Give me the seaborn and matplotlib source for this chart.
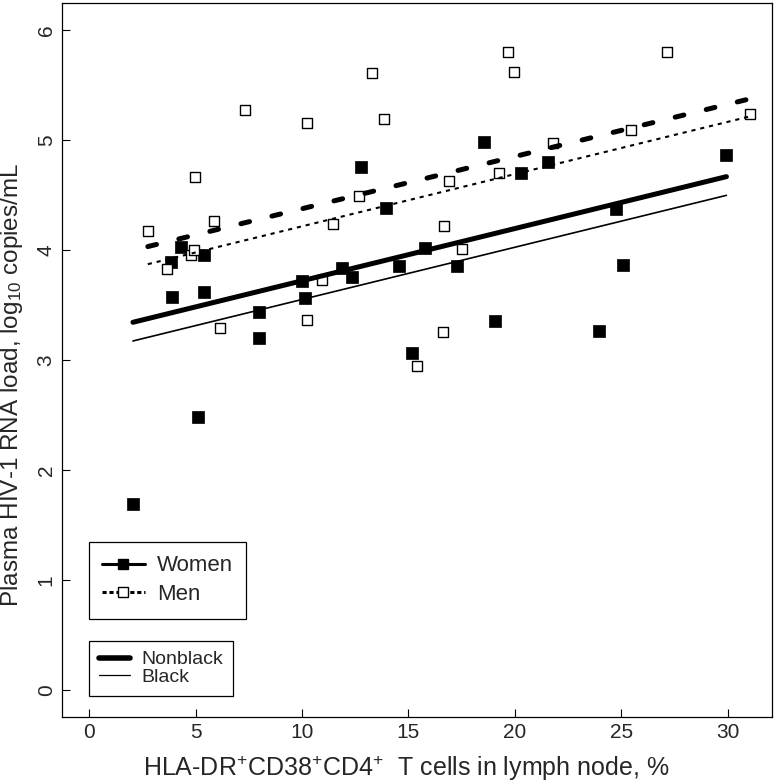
import numpy as np
import pandas as pd
import seaborn as sns
import matplotlib.pyplot as plt
from matplotlib.lines import Line2D

# points
women_x = [2.06, 3.84, 3.89, 4.31, 5.10, 5.39, 5.39, 7.96, 7.97, 10.00, 10.12, 11.87, 12.33, 12.75,
           13.93, 14.55, 15.15, 15.76, 17.30, 18.53, 19.08, 20.27, 21.54, 23.93, 24.73, 25.05, 29.93]
women_y = [1.69, 3.89, 3.57, 4.03, 2.48, 3.95, 3.62, 3.44, 3.20, 3.72, 3.56, 3.84, 3.75, 4.75,
           4.38, 3.85, 3.06, 4.02, 3.85, 4.98, 3.35, 4.70, 4.80, 3.26, 4.37, 3.86, 4.86]
men_x = [2.76, 3.66, 4.78, 4.92, 4.97, 5.86, 6.14, 7.31, 10.22, 10.22, 10.93, 11.45, 12.67, 13.27,
         13.84, 15.42, 16.60, 16.65, 16.89, 17.50, 19.24, 19.66, 19.94, 21.80, 25.43, 27.12, 31.02]
men_y = [4.17, 3.83, 3.95, 4.00, 4.66, 4.26, 3.29, 5.27, 5.15, 3.36, 3.73, 4.24, 4.49, 5.61,
         5.19, 2.95, 3.25, 4.22, 4.63, 4.01, 4.70, 5.80, 5.62, 4.97, 5.09, 5.80, 5.24]

# fitted model: common slope, intercepts per sex / race
slope = 0.0475
intercepts = {('Women', 'Nonblack'): 3.245, ('Women', 'Black'): 3.075,
              ('Men', 'Nonblack'): 3.900, ('Men', 'Black'): 3.740}

women = pd.DataFrame({'x': women_x, 'y': women_y})
men = pd.DataFrame({'x': men_x, 'y': men_y})

sns.set_style('ticks')
plt.rcParams['font.family'] = ['Liberation Sans', 'DejaVu Sans']
plt.rcParams['mathtext.fontset'] = 'custom'
plt.rcParams['mathtext.rm'] = 'Liberation Sans'
plt.rcParams['mathtext.it'] = 'Liberation Sans:italic'
plt.rcParams['lines.scale_dashes'] = False

fig = plt.figure(figsize=(7.8, 7.84), dpi=100)
ax = fig.add_axes([62 / 780, 1 - 717 / 784, 710 / 780, 714 / 784])

sns.scatterplot(data=women, x='x', y='y', marker='s', s=70, color='black',
                edgecolor='black', linewidth=0.5, ax=ax)
sns.scatterplot(data=men, x='x', y='y', marker='s', s=62, facecolor='white',
                edgecolor='black', linewidth=1.0, ax=ax)

styles = {('Women', 'Nonblack'): dict(lw=3.6, ls='-', solid_capstyle='round'),
          ('Women', 'Black'): dict(lw=1.2, ls='-'),
          ('Men', 'Nonblack'): dict(lw=3.6, ls=(0, (6.4, 16.6)), dash_capstyle='round'),
          ('Men', 'Black'): dict(lw=1.5, ls=(0, (3, 3.5)))}
ranges = {'Women': (min(women_x), max(women_x)), 'Men': (min(men_x), max(men_x))}
for key, b0 in intercepts.items():
    xs = np.array(ranges[key[0]])
    ax.plot(xs, b0 + slope * xs, color='black', **styles[key])

ax.set_xlim(-1.27, 32.07)
ax.set_ylim(-0.245, 6.245)
ax.set_xticks([0, 5, 10, 15, 20, 25, 30])
ax.set_yticks([0, 1, 2, 3, 4, 5, 6])
ax.tick_params(labelsize=15, direction='in', length=6, width=0.8, color='black', pad=4.5)
for lab in ax.get_yticklabels():
    lab.set_rotation(90)
    lab.set_va('center')
for sp in ax.spines.values():
    sp.set_visible(True)
    sp.set_linewidth(0.9)
    sp.set_color('black')

ax.set_xlabel(r'HLA-DR$^{+}$CD38$^{+}$CD4$^{+}$  T cells in lymph node, %', fontsize=18, va='top')
ax.xaxis.set_label_coords(0.485, -0.051)
ax.set_ylabel(r'Plasma HIV-1 RNA load, log$_{10}$ copies/mL', fontsize=17.5, va='center')
ax.yaxis.set_label_coords(-0.07, 0.465)

h1 = [Line2D([], [], color='black', lw=2.2, marker='s', ms=7, mfc='black'),
      Line2D([], [], color='black', lw=2.2, ls=(0, (3, 2)), marker='s', ms=7, mfc='white')]
leg1 = ax.legend(h1, ['Women', 'Men'], loc='upper left', bbox_to_anchor=(0, 1.345),
                 bbox_transform=ax.transData, fontsize=16, frameon=True, fancybox=False,
                 edgecolor='black', framealpha=1, borderaxespad=0, borderpad=0.6,
                 handlelength=1.9, handletextpad=0.55, labelspacing=0.35)
leg1.get_frame().set_linewidth(0.9)
ax.add_artist(leg1)

h2 = [Line2D([], [], color='black', lw=4, solid_capstyle='round'),
      Line2D([], [], color='black', lw=0.9)]
leg2 = ax.legend(h2, ['Nonblack', 'Black'], loc='upper left', bbox_to_anchor=(0, 0.445),
                 bbox_transform=ax.transData, fontsize=14, frameon=True, fancybox=False,
                 edgecolor='black', framealpha=1, borderaxespad=0, borderpad=0.5,
                 handlelength=1.6, handletextpad=0.6, labelspacing=0.0)
leg2.get_frame().set_linewidth(0.9)

fig.savefig('out.png', dpi=100)
